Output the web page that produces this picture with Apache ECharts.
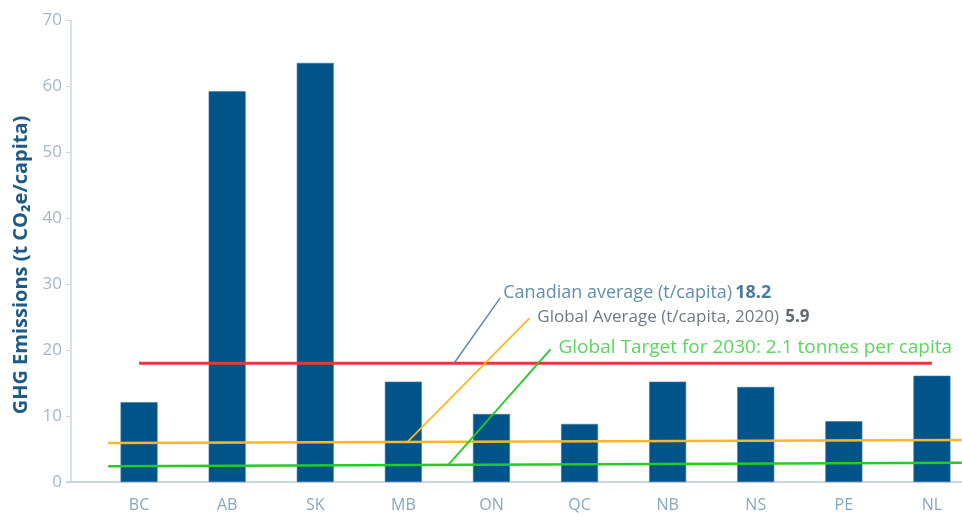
<!DOCTYPE html>
<html><head><meta charset="utf-8">
<script src="https://cdn.jsdelivr.net/npm/echarts@6/dist/echarts.min.js"></script>
<style>html,body{margin:0;padding:0;background:#fff}#c{width:962px;height:516px}</style>
</head><body><div id="c"></div>
<script>
const categories = ['BC','AB','SK','MB','ON','QC','NB','NS','PE','NL'];
const emissions = [12.1, 59.2, 63.5, 15.2, 10.3, 8.8, 15.2, 14.4, 9.2, 16.1];
const yTicks = [0, 10, 20, 30, 40, 50, 60, 70];
const canadianAvgLine = [[0, 18.0], [9, 18.0]];
const globalAvgLine = [[-0.35, 5.9], [9.34, 6.35]];
const globalTargetLine = [[-0.35, 2.4], [9.34, 2.9]];
const canadianLeader = [[3.575, 18.0], [4.10, 27.9]];
const globalAvgLeader = [[3.05, 6.1], [4.43, 24.8]];
const targetLeader = [[3.51, 2.6], [4.67, 20.1]];
const annCanadian = { at: [4.10, 27.9], text: 'Canadian average (t/capita)', value: '18.2' };
const annGlobal = { at: [4.43, 24.8], text: 'Global Average (t/capita, 2020)', value: '5.9' };
const annTarget = { at: [4.67, 20.1], text: 'Global Target for 2030: 2.1 tonnes per capita' };

const FONT = 'Open Sans';
const chart = echarts.init(document.getElementById('c'));
function lineSeries(data, color, width) {
  return { type: 'line', xAxisIndex: 1, yAxisIndex: 0, data: data, symbol: 'none', silent: true,
    lineStyle: { color: color, width: width }, z: 5, animation: false };
}
function annSeries(pt, label) {
  return { type: 'scatter', xAxisIndex: 1, yAxisIndex: 0, data: [pt], symbolSize: 0, silent: true, z: 6,
    label: Object.assign({ show: true, position: 'right' }, label), animation: false };
}
chart.setOption({
  animation: false,
  textStyle: { fontFamily: FONT },
  grid: [
    { left: 95, width: 881, top: 20, bottom: 34, outerBoundsMode: 'none', containLabel: false },
    { left: 67, right: 0, top: 20, bottom: 34, outerBoundsMode: 'none', containLabel: false }
  ],
  xAxis: [
    { type: 'category', gridIndex: 0, data: categories,
      axisLine: { show: false }, axisTick: { show: false },
      axisLabel: { color: '#86a7c1', fontSize: 16, margin: 15, fontFamily: FONT } },
    { type: 'value', gridIndex: 0, min: -0.5, max: 9.5, show: false },
    { type: 'category', gridIndex: 1, data: [''],
      axisLine: { show: true, onZero: false, lineStyle: { color: '#c6d5e1', width: 2 } },
      axisTick: { show: false }, axisLabel: { show: false } }
  ],
  yAxis: [
    { type: 'value', gridIndex: 0, min: 0, max: 70, interval: 10, offset: 24,
      axisLine: { show: true, onZero: false, lineStyle: { color: '#c9d7e3', width: 1.5 } },
      axisTick: { show: true, length: 5, lineStyle: { color: '#c9d7e3' } },
      splitLine: { show: false },
      axisLabel: { color: '#a3b7c8', fontSize: 17, margin: 9, fontFamily: FONT,
        customValues: yTicks },
      name: 'GHG Emissions (t CO₂e/capita)', nameLocation: 'middle', nameGap: 38, nameRotate: 90,
      nameTextStyle: { fontSize: 20, fontWeight: 'bold', color: '#1d5a86', fontFamily: FONT, padding: [0, 28, 0, 0] } },
    { type: 'value', gridIndex: 1, show: false }
  ],
  series: [
    { type: 'bar', xAxisIndex: 0, yAxisIndex: 0, data: emissions, barWidth: 37,
      itemStyle: { color: '#01548a', borderColor: '#3f77a0', borderWidth: 0.6 }, z: 2 },
    lineSeries(canadianAvgLine, '#e03a3e', 3),
    lineSeries(globalAvgLine, '#fbb824', 2.5),
    lineSeries(globalTargetLine, '#22cc22', 2.5),
    lineSeries(canadianLeader, '#5b8cad', 1.5),
    lineSeries(globalAvgLeader, '#fbb824', 1.8),
    lineSeries(targetLeader, '#22cc22', 1.8),
    annSeries(annCanadian.at, { distance: 3, offset: [0, -5],
      formatter: '{a|' + annCanadian.text + '} {b|' + annCanadian.value + '}',
      rich: { a: { color: '#3a7296', fontSize: 18, fontFamily: FONT },
              b: { color: '#1d5a86', fontSize: 18, fontWeight: 'bold', fontFamily: FONT } } }),
    annSeries(annGlobal.at, { distance: 8, offset: [0, -1],
      formatter: '{a|' + annGlobal.text + '}  {b|' + annGlobal.value + '}',
      rich: { a: { color: '#4b5662', fontSize: 17, fontFamily: FONT },
              b: { color: '#3a4550', fontSize: 17, fontWeight: 'bold', fontFamily: FONT } } }),
    annSeries(annTarget.at, { distance: 8, offset: [0, -2],
      formatter: annTarget.text, color: '#33cc33', fontSize: 19, fontFamily: FONT })
  ]
});
</script></body></html>
